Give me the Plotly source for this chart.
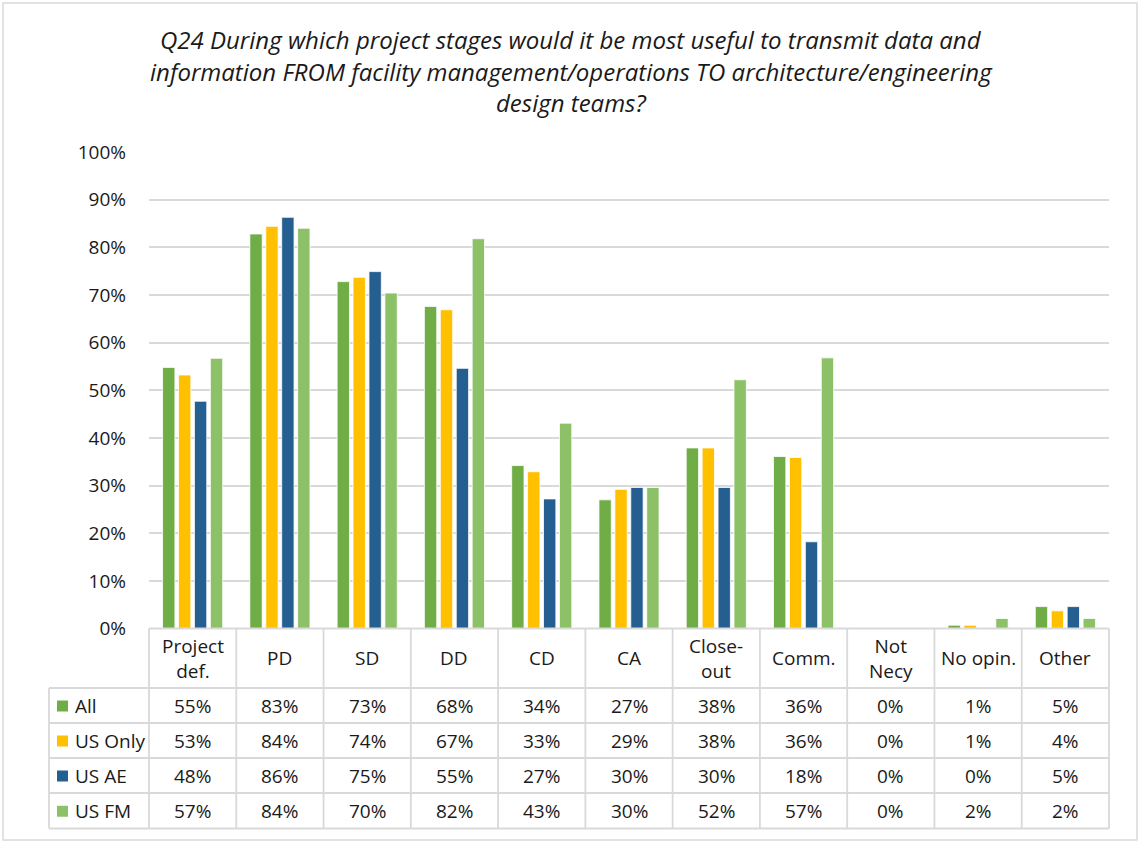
import plotly.graph_objects as go

# ---------------- data ----------------
categories = ["Project def.", "PD", "SD", "DD", "CD", "CA", "Close-out", "Comm.", "Not Necy", "No opin.", "Other"]
header_labels = ["Project<br>def.", "PD", "SD", "DD", "CD", "CA", "Close-<br>out", "Comm.", "Not<br>Necy", "No opin.", "Other"]
series_names = ["All", "US Only", "US AE", "US FM"]
all_vals = [54.8, 82.8, 72.8, 67.6, 34.2, 27.0, 37.9, 36.1, 0.0, 0.7, 4.6]
us_only_vals = [53.2, 84.4, 73.7, 66.9, 32.9, 29.2, 37.9, 35.9, 0.0, 0.7, 3.7]
us_ae_vals = [47.7, 86.3, 74.9, 54.6, 27.2, 29.6, 29.6, 18.2, 0.0, 0.0, 4.6]
us_fm_vals = [56.7, 84.0, 70.4, 81.8, 43.1, 29.6, 52.2, 56.8, 0.0, 2.1, 2.1]
series_values = [all_vals, us_only_vals, us_ae_vals, us_fm_vals]
colors = ["#70AD47", "#FFC000", "#255E91", "#8CC168"]
y_ticks = [0, 10, 20, 30, 40, 50, 60, 70, 80, 90, 100]
title_lines = [
    "Q24 During which project stages would it be most useful to transmit data and",
    "information FROM facility management/operations TO architecture/engineering",
    "design teams?",
]

# ---------------- layout geometry ----------------
W, H = 1140, 843
FONT = "Open Sans"
TXT = "#1a1a1a"
GRID = "#d9d9d9"
X0, X1 = 149, 1109          # plot area / table columns
Y_TOP, Y_BOT = 152, 628.5   # 100% and 0% positions
LBL_LEFT = 49               # table left edge
row_edges = [628.5, 688, 723, 758, 793, 828.5]


def px(x):
    return x / W


def py(y):
    return 1 - y / H


fig = go.Figure()
for name, vals, col in zip(series_names, series_values, colors):
    fig.add_trace(go.Bar(
        x=categories, y=vals, name=name,
        marker=dict(color=col, line=dict(color="white", width=0.8)),
        showlegend=False,
    ))

shapes = []
annotations = []

# outer chart border
shapes.append(dict(type="rect", xref="paper", yref="paper", x0=px(3), x1=px(1137), y0=py(840), y1=py(3),
                   line=dict(color=GRID, width=1.5), fillcolor="rgba(0,0,0,0)", layer="below"))

# table horizontal lines
for i, y in enumerate(row_edges):
    xa = X0 if i == 0 else LBL_LEFT
    shapes.append(dict(type="line", xref="paper", yref="paper", x0=px(xa), x1=px(X1), y0=py(y), y1=py(y),
                       line=dict(color=GRID, width=1.8), layer="above"))
# table vertical lines
n = len(categories)
cw = (X1 - X0) / n
shapes.append(dict(type="line", xref="paper", yref="paper", x0=px(LBL_LEFT), x1=px(LBL_LEFT),
                   y0=py(row_edges[1]), y1=py(row_edges[-1]), line=dict(color=GRID, width=1.8)))
for k in range(n + 1):
    x = X0 + k * cw
    shapes.append(dict(type="line", xref="paper", yref="paper", x0=px(x), x1=px(x),
                       y0=py(row_edges[0]), y1=py(row_edges[-1]), line=dict(color=GRID, width=1.8)))

# header row labels
hy = (row_edges[0] + row_edges[1]) / 2
for cat, lab in zip(categories, header_labels):
    annotations.append(dict(x=cat, xref="x", y=py(hy), yref="paper", text=lab, showarrow=False,
                            xanchor="center", yanchor="middle", align="center",
                            font=dict(family=FONT, size=19, color=TXT)))

# rows
for r, (name, vals, col) in enumerate(zip(series_names, series_values, colors)):
    yc = (row_edges[r + 1] + row_edges[r + 2]) / 2
    shapes.append(dict(type="rect", xref="paper", yref="paper", x0=px(57), x1=px(68),
                       y0=py(yc + 6), y1=py(yc - 5), fillcolor=col, line=dict(width=0)))
    annotations.append(dict(x=px(73), xref="paper", y=py(yc), yref="paper", text=name, showarrow=False,
                            xanchor="left", yanchor="middle",
                            font=dict(family=FONT, size=19, color=TXT)))
    for cat, v in zip(categories, vals):
        annotations.append(dict(x=cat, xref="x", y=py(yc), yref="paper", text=f"{round(v)}%",
                                showarrow=False, xanchor="center", yanchor="middle",
                                font=dict(family=FONT, size=19, color=TXT)))

# title lines
for line, yc in zip(title_lines, [40, 71, 102]):
    annotations.append(dict(x=px(571), xref="paper", y=py(yc), yref="paper", text=f"<i>{line}</i>",
                            showarrow=False, xanchor="center", yanchor="middle",
                            font=dict(family=FONT, size=24, color=TXT)))

fig.update_layout(
    template="none",
    width=W, height=H, autosize=False,
    margin=dict(l=0, r=0, t=0, b=0, pad=0, autoexpand=False),
    paper_bgcolor="white", plot_bgcolor="white",
    barmode="group", bargap=0.27, bargroupgap=0.225,
    shapes=shapes, annotations=annotations,
    xaxis=dict(domain=[px(X0), px(X1)], type="category", range=[-0.5, n - 0.5], automargin=False,
               showticklabels=False, showgrid=False, zeroline=False, showline=False, ticks=""),
    yaxis=dict(domain=[py(Y_BOT), py(Y_TOP)], range=[0, 100], tickvals=y_ticks, automargin=False,
               ticktext=[f"{t}%" for t in y_ticks], showgrid=True, gridcolor=GRID, gridwidth=1.5,
               zeroline=False, showline=False, ticks="", ticklabelstandoff=22,
               tickfont=dict(family=FONT, size=19, color=TXT)),
    font=dict(family=FONT),
)

fig.write_html("out.html")
